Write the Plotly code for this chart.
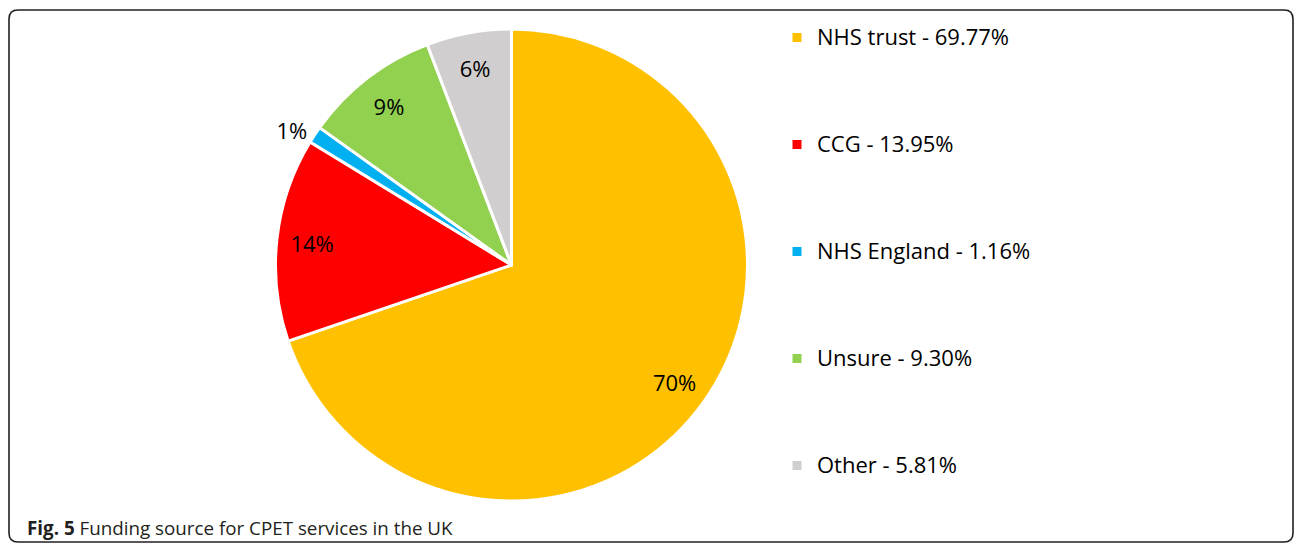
import plotly.graph_objects as go

# ---- data ----
categories = ["NHS trust", "CCG", "NHS England", "Unsure", "Other"]
shares = [69.77, 13.95, 1.16, 9.30, 5.81]
share_labels = ["69.77%", "13.95%", "1.16%", "9.30%", "5.81%"]
colors = ["#FFC000", "#FF0000", "#00B0F0", "#92D050", "#D0CECE"]
label_pos = ["inside", "inside", "outside", "inside", "inside"]
caption_bold = "Fig. 5"
caption_text = "Funding source for CPET services in the UK"

W, H = 1296, 548
FONT = "Open Sans"

# legend labels; trailing blank lines give the wide vertical spacing of the original legend
legend_labels = []
for i, (c, s) in enumerate(zip(categories, share_labels)):
    lab = f'<span style="font-size:22px">{c} - {s}</span>'
    if i < len(categories) - 1:
        lab += "<br> <br> <br> "
    legend_labels.append(lab)

cx, cy, r = 511.5, 265.0, 236.0
dom_x = [(cx - r) / W, (cx + r) / W]
dom_y = [(H - cy - r) / H, (H - cy + r) / H]

fig = go.Figure()
# the pie itself
fig.add_trace(go.Pie(
    labels=legend_labels,
    values=shares,
    sort=False,
    direction="clockwise",
    rotation=0,
    marker=dict(colors=colors, line=dict(color="white", width=3)),
    textinfo="none",
    domain=dict(x=dom_x, y=dom_y),
    hoverinfo="percent",
))
# transparent ring over it, only to carry the data labels near the rim (as in the original)
fig.add_trace(go.Pie(
    labels=legend_labels,
    values=shares,
    sort=False,
    direction="clockwise",
    rotation=0,
    hole=0.7,
    marker=dict(colors=["rgba(0,0,0,0)"] * len(shares), line=dict(width=0)),
    texttemplate="%{percent:.0%}",
    textposition=label_pos,
    insidetextorientation="horizontal",
    textfont=dict(family=FONT, size=22, color="black"),
    insidetextfont=dict(family=FONT, size=22, color="black"),
    outsidetextfont=dict(family=FONT, size=22, color="black"),
    domain=dict(x=dom_x, y=dom_y),
    showlegend=False,
    hoverinfo="skip",
))

def px(x):
    return x / W

def py(y):
    return 1 - y / H

# rounded border
L, T, R, B, rad = 9, 10, 1293, 542, 9
path = (
    f"M {px(L + rad)},{py(T)} L {px(R - rad)},{py(T)} "
    f"Q {px(R)},{py(T)} {px(R)},{py(T + rad)} "
    f"L {px(R)},{py(B - rad)} Q {px(R)},{py(B)} {px(R - rad)},{py(B)} "
    f"L {px(L + rad)},{py(B)} Q {px(L)},{py(B)} {px(L)},{py(B - rad)} "
    f"L {px(L)},{py(T + rad)} Q {px(L)},{py(T)} {px(L + rad)},{py(T)} Z"
)

fig.update_layout(
    width=W, height=H,
    margin=dict(l=0, r=0, t=0, b=0),
    paper_bgcolor="white",
    plot_bgcolor="white",
    showlegend=True,
    legend=dict(
        x=777 / W, xanchor="left",
        y=py(18), yanchor="top",
        valign="top",
        font=dict(family=FONT, size=20, color="black"),
        bgcolor="rgba(0,0,0,0)",
        tracegroupgap=0,
    ),
    shapes=[dict(type="path", xref="paper", yref="paper", path=path,
                 line=dict(color="#231F20", width=1.6), fillcolor="rgba(0,0,0,0)")],
    annotations=[dict(
        text=f"<b>{caption_bold}</b> {caption_text}",
        xref="paper", yref="paper", x=px(25), y=py(528),
        xanchor="left", yanchor="middle", showarrow=False,
        font=dict(family="Open Sans", size=18.8, color="#231F20"),
    )],
)

fig.write_html("out.html", config={"displayModeBar": False},
               post_script="document.body.style.margin='0';")
